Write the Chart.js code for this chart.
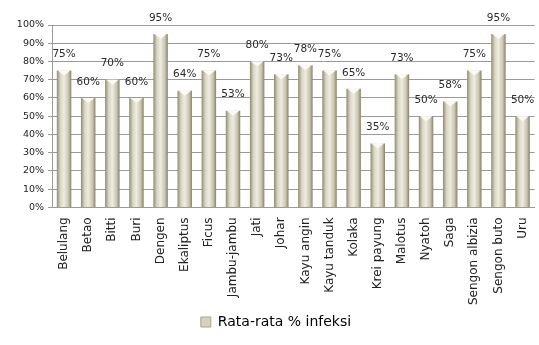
<!DOCTYPE html>
<html>
<head>
<meta charset="utf-8">
<script src="https://cdn.jsdelivr.net/npm/chart.js@4/dist/chart.umd.min.js"></script>
<style>
  html, body { margin: 0; padding: 0; background: #fff; }
  #wrap { width: 539px; height: 345px; position: relative; }
</style>
</head>
<body>
<div id="wrap"><canvas id="infeksiChart"></canvas></div>
<script>
// data
var categories = ["Belulang", "Betao", "Bitti", "Buri", "Dengen", "Ekaliptus", "Ficus", "Jambu-jambu",
    "Jati", "Johar", "Kayu angin", "Kayu tanduk", "Kolaka", "Krei payung", "Malotus", "Nyatoh",
    "Saga", "Sengon albizia", "Sengon buto", "Uru"];
var infeksi = [75, 60, 70, 60, 95, 64, 75, 53, 80, 73, 78, 75, 65, 35, 73, 50, 58, 75, 95, 50];
var yTicks = [0, 10, 20, 30, 40, 50, 60, 70, 80, 90, 100];
var seriesName = "Rata-rata % infeksi";
var barPct = 0.6;

// cylinder-like gradient, one per bar (x scale is laid out before bars are updated)
function barFill(ctx) {
    var chart = ctx.chart;
    var xs = chart.scales.x;
    if (!xs || ctx.dataIndex === undefined) return "#d6d2bd";
    var cx = xs.getPixelForValue(ctx.dataIndex);
    var half = xs.width / categories.length * barPct / 2;
    var g = chart.ctx.createLinearGradient(cx - half, 0, cx + half, 0);
    g.addColorStop(0, "#8e8a72");
    g.addColorStop(0.25, "#d9d6c4");
    g.addColorStop(0.5, "#eeece2");
    g.addColorStop(0.8, "#c9c5ae");
    g.addColorStop(1, "#85816a");
    return g;
}

// bevelled top + value labels
var barDecor = {
    id: "barDecor",
    afterDatasetsDraw: function (chart) {
        var ctx = chart.ctx;
        var meta = chart.getDatasetMeta(0);
        ctx.save();
        meta.data.forEach(function (bar, i) {
            var half = bar.width / 2;
            ctx.fillStyle = "#fbfaf5";
            ctx.beginPath();
            ctx.moveTo(bar.x - half + 1, bar.y);
            ctx.lineTo(bar.x + half - 1, bar.y);
            ctx.lineTo(bar.x, bar.y + 5);
            ctx.closePath();
            ctx.fill();

            ctx.fillStyle = "#2a2a2a";
            ctx.font = "10.5px 'DejaVu Sans'";
            ctx.textAlign = "center";
            ctx.textBaseline = "middle";
            ctx.fillText(infeksi[i] + "%", bar.x, bar.y - 16);
        });
        ctx.restore();
    }
};

new Chart(document.getElementById("infeksiChart"), {
    type: "bar",
    data: {
        labels: categories,
        datasets: [{
            label: seriesName,
            data: infeksi,
            backgroundColor: barFill,
            borderWidth: 0,
            barPercentage: barPct,
            categoryPercentage: 1.0
        }]
    },
    options: {
        responsive: true,
        maintainAspectRatio: false,
        animation: false,
        layout: { padding: { top: 25, right: 1, left: 14, bottom: 6 } },
        plugins: {
            tooltip: { enabled: false },
            legend: {
                position: "bottom",
                labels: {
                    color: "#222",
                    font: { family: "DejaVu Sans", size: 14 },
                    boxWidth: 10,
                    boxHeight: 10,
                    padding: 8,
                    generateLabels: function (chart) {
                        return [{
                            text: seriesName,
                            fillStyle: "#d6d2bd",
                            strokeStyle: "#a9a58e",
                            lineWidth: 1,
                            datasetIndex: 0
                        }];
                    }
                }
            }
        },
        scales: {
            x: {
                grid: { display: false },
                border: { color: "#9a9a9a" },
                ticks: {
                    color: "#222",
                    font: { family: "DejaVu Sans", size: 12 },
                    maxRotation: 90,
                    minRotation: 90,
                    autoSkip: false,
                    padding: 2
                }
            },
            y: {
                min: 0,
                max: 100,
                afterBuildTicks: function (scale) {
                    scale.ticks = yTicks.map(function (v) { return { value: v }; });
                },
                afterFit: function (scale) { scale.width = 38; },
                grid: { color: "#9a9a9a", lineWidth: 1, tickLength: 4 },
                border: { color: "#9a9a9a" },
                ticks: {
                    color: "#222",
                    font: { family: "DejaVu Sans", size: 9.5 },
                    padding: 4,
                    callback: function (v) { return v + "%"; }
                }
            }
        }
    },
    plugins: [barDecor]
});
</script>
</body>
</html>
